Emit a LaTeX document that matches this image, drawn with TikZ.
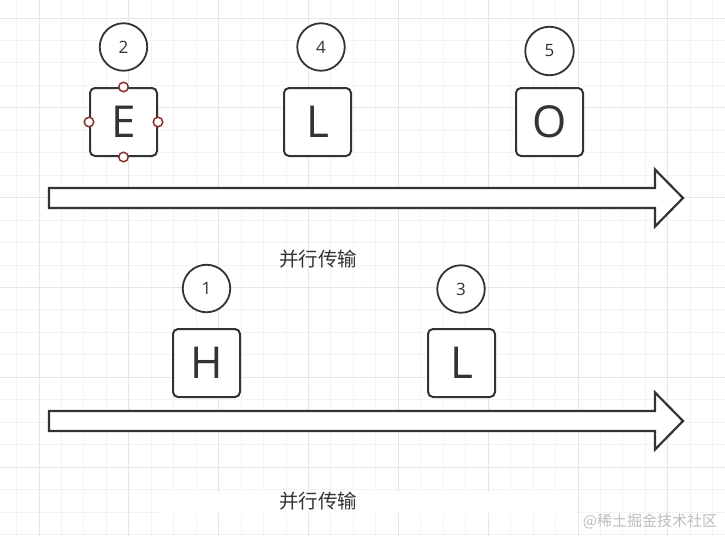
\documentclass[tikz,border=0pt]{standalone}
\usepackage{fontspec}
\setmainfont{Open Sans}
\newfontfamily\cjk{Noto Sans CJK SC}
\definecolor{ink}{HTML}{333333}
\definecolor{gridminor}{HTML}{F3F3F3}
\definecolor{gridmajor}{HTML}{E6E6E6}
\definecolor{handle}{HTML}{8B2F2F}
\definecolor{wm}{HTML}{BDBDBD}
\tikzset{
  numcirc/.style={circle, draw=ink, line width=1.8pt, fill=white, minimum size=47.5pt, inner sep=0pt, font=\fontsize{17}{17}\selectfont, text=ink},
  letterbox/.style={rectangle, rounded corners=5pt, draw=ink, line width=2pt, fill=white, minimum width=67pt, minimum height=68pt, inner sep=0pt, font=\fontsize{44}{44}\selectfont, text=ink},
  bigarrow/.style={draw=ink, line width=2.2pt, fill=white, line join=miter},
  handledot/.style={circle, draw=handle, line width=1.5pt, fill=white, minimum size=9.5pt, inner sep=0pt},
  caption/.style={font=\cjk\fontsize{19.5}{19.5}\selectfont, text=ink, inner sep=0pt},
  minorline/.style={draw=gridminor, line width=1pt},
  majorline/.style={draw=gridmajor, line width=1pt}
}
\begin{document}
\begin{tikzpicture}[x=1pt,y=-1pt]
\useasboundingbox (0,0) rectangle (725,536);
\fill[white] (0,0) rectangle (725,536);
% grid
\foreach \i in {-1,...,31} {
  \draw[minorline] ({39+22.46*\i},0) -- ({39+22.46*\i},536);
}
\foreach \i in {0,...,23} {
  \draw[minorline] (0,{18+22.46*\i}) -- (725,{18+22.46*\i});
}
\foreach \i in {0,...,7} {
  \draw[majorline] ({39+89.84*\i},0) -- ({39+89.84*\i},536);
}
\foreach \i in {0,...,5} {
  \draw[majorline] (0,{18+89.84*\i}) -- (725,{18+89.84*\i});
}
\fill[white] (160,492) rectangle (575,513);
% arrows
\draw[bigarrow] (49,188) -- (655,188) -- (655,169.5) -- (683,198) -- (655,226.5) -- (655,208) -- (49,208) -- cycle;
\draw[bigarrow] (49,411) -- (655,411) -- (655,392.5) -- (683,421) -- (655,449.5) -- (655,431) -- (49,431) -- cycle;
% top row
\node[numcirc] (c2) at (123.5,47) {2};
\node[letterbox] (bE) at (123.5,122) {E};
\node[numcirc] (c4) at (321,47) {4};
\node[letterbox] (bL1) at (317.5,122) {L};
\node[numcirc, minimum size=48.5pt] (c5) at (549.5,51) {5};
\node[letterbox] (bO) at (549.5,122) {O};
% handles on E
\node[handledot] (hN) at (bE.north) {};
\node[handledot] (hS) at (bE.south) {};
\node[handledot] (hW) at (bE.west) {};
\node[handledot] (hE) at (bE.east) {};
% bottom row
\node[numcirc] (c1) at (206.5,288.5) {1};
\node[letterbox] (bH) at (206.5,363) {H};
\node[numcirc] (c3) at (461,289) {3};
\node[letterbox] (bL2) at (461.5,363) {L};
% captions
\node[caption] (t1) at (318,259.5) {并行传输};
\node[caption] (t2) at (318,501.5) {并行传输};
\node[font=\cjk\fontsize{15}{15}\selectfont, text=wm, inner sep=0pt] (wmk) at (650,521) {@稀土掘金技术社区};
\end{tikzpicture}
\end{document}
